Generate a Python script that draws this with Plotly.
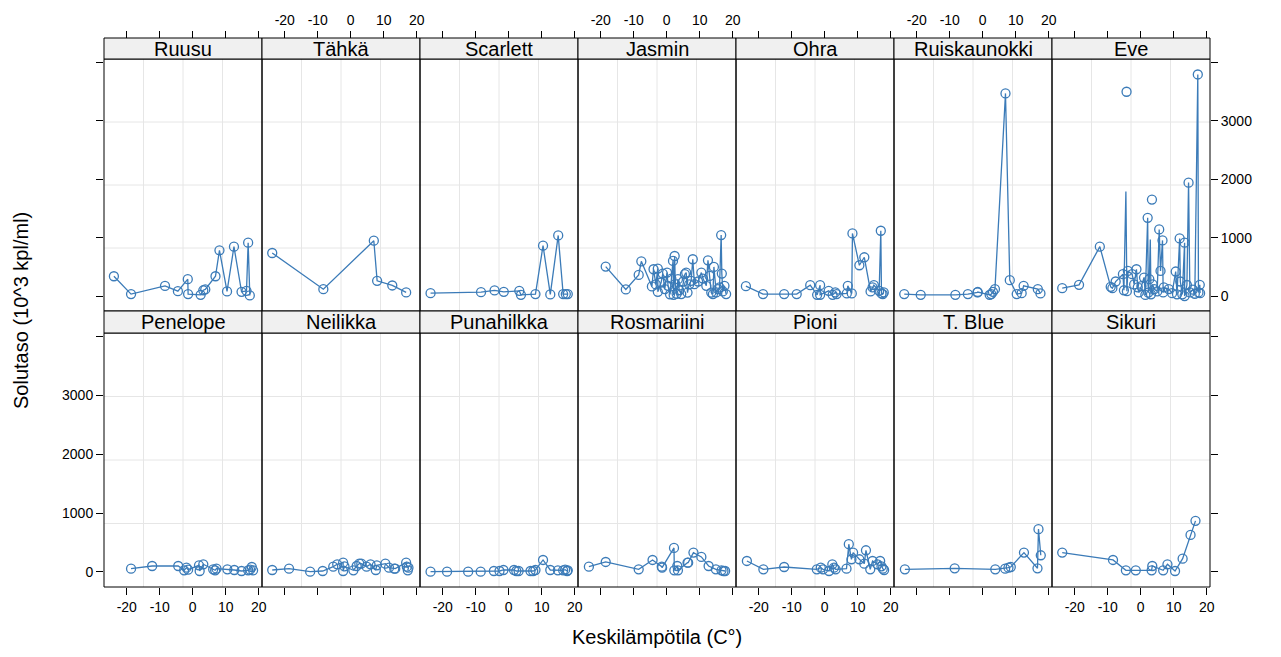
import plotly.graph_objects as go

# ---------------- data ----------------
panel_names = ["Ruusu", "Tähkä", "Scarlett", "Jasmin", "Ohra", "Ruiskaunokki", "Eve",
               "Penelope", "Neilikka", "Punahilkka", "Rosmariini", "Pioni", "T. Blue", "Sikuri"]

ruusu_x = [-23.9, -18.7, -8.4, -4.5, -1.5, -1.4, 2.4, 3.2, 3.8, 6.9, 8.1, 10.4, 12.5, 14.8, 16.3, 16.8, 17.3]
ruusu_y = [340, 34, 175, 85, 290, 34, 22, 100, 114, 340, 784, 80, 847, 73, 90, 915, 12]

tahka_x = [-23.8, -8.3, 7.0, 8.0, 12.6, 16.8]
tahka_y = [738, 119, 949, 261, 182, 63]

scarlett_x = [-23.7, -8.4, -4.3, -1.5, 3.2, 3.7, 8.1, 10.4, 12.6, 15.0, 16.5, 17.3, 17.9]
scarlett_y = [51, 68, 97, 73, 90, 22, 34, 863, 29, 1039, 34, 34, 34]

jasmin_x = [-18.5, -12.4, -8.5, -7.7, -4.5, -4.0, -3.3, -2.7, -2.7, -1.7, -1.2, -0.6, 0.1, 0.4, 1.0, 1.4,
            1.9, 2.1, 2.4, 2.6, 3.0, 3.4, 3.8, 4.4, 5.0, 5.5, 5.9, 6.3, 6.8, 7.4, 7.9, 8.4, 9.5, 10.5,
            11.0, 12.0, 12.5, 13.0, 13.5, 14.0, 14.3, 15.0, 15.5, 16.0, 16.5, 16.7, 17.0, 17.5, 18.0]
jasmin_y = [506, 114, 363, 596, 165, 460, 200, 472, 73, 233, 386, 120, 403, 176, 30, 300,
            602, 20, 687, 204, 40, 290, 100, 34, 250, 375, 403, 60, 200, 261, 631, 204, 250, 403,
            300, 176, 613, 346, 60, 34, 500, 63, 120, 148, 1045, 386, 80, 176, 34]

ohra_x = [-23.9, -18.7, -12.3, -8.5, -4.4, -2.3, -1.4, -1.4, 1.2, 2.4, 3.2, 3.6, 6.7, 7.0, 8.2, 8.4,
          10.5, 12.0, 13.9, 14.5, 14.9, 16.5, 17.0, 17.2, 17.6, 17.9]
ohra_y = [170, 34, 34, 34, 187, 22, 187, 22, 90, 22, 63, 34, 46, 176, 46, 1073,
          528, 665, 80, 148, 187, 90, 1119, 46, 34, 63]

ruis_x = [-23.8, -18.8, -8.3, -4.5, -1.6, -1.5, 2.1, 2.6, 3.1, 3.7, 6.9, 8.2, 10.3, 11.8, 12.4, 16.7, 17.5]
ruis_y = [34, 22, 22, 34, 63, 70, 22, 34, 73, 119, 3471, 273, 34, 51, 176, 119, 46]

eve_x = [-23.8, -18.7, -12.4, -9.1, -8.6, -7.6, -5.4, -5.1, -4.5, -4.2, -3.9, -2.6, -2.0, -1.3, -0.9,
         -0.6, 0.2, 1.0, 1.4, 2.1, 2.3, 2.6, 2.9, 3.1, 3.6, 4.1, 5.0, 5.6, 6.0, 6.6, 6.8, 7.0, 8.5,
         9.5, 10.6, 11.0, 11.8, 12.0, 12.6, 13.3, 13.3, 14.0, 14.5, 14.9, 15.8, 16.4, 17.3, 17.5,
         17.9, 18.0, None, -4.3, None, 3.4]
eve_y = [136, 193, 847, 159, 136, 250, 375, 100, 1790, 85, 431, 375, 200, 460, 150,
         63, 170, 318, 20, 1341, 60, 290, 970, 30, 200, 120, 80, 1142, 431, 954, 63, 150, 120,
         50, 421, 30, 988, 250, 30, 915, 0, 190, 1943, 63, 110, 40, 3795, 63,
         193, 51, None, 3499, None, 1653]
eve_line_only = [8, 22]  # vertices reached by the line without a circle

penelope_x = [-18.7, -12.3, -4.4, -2.6, -1.9, -1.4, 1.9, 2.1, 3.2, 6.2, 6.8, 7.2, 10.5, 12.6, 14.8,
              16.8, 17.9, 18.3, 17.4]
penelope_y = [57, 102, 102, 29, 73, 40, 114, 17, 131, 46, 29, 57, 46, 34, 17, 29, 85, 29, 40]

neilikka_x = [-23.8, -18.7, -12.3, -8.5, -5.3, -4.1, -2.3, -2.3, -1.9, 0.8, 1.8, 2.6, 3.2, 4.8, 6.0,
              7.6, 7.9, 10.5, 11.6, 13.2, 13.5, 16.8, 17.0, 17.5, 17.3]
neilikka_y = [34, 57, 5, 17, 91, 131, 159, 17, 97, 29, 102, 142, 142, 91, 131,
              34, 114, 142, 73, 57, 57, 159, 91, 73, 29]

puna_x = [-23.7, -18.7, -12.3, -8.5, -4.5, -2.8, -1.6, 1.6, 2.3, 3.0, 6.6, 7.4, 8.1, 10.4, 12.6,
          14.9, 16.5, 17.1, 17.7, 17.9]
puna_y = [5, 5, 5, 5, 17, 17, 34, 34, 17, 17, 17, 17, 34, 204, 34, 29, 29, 40, 17, 29]

rosm_x = [-23.6, -18.5, -8.5, -4.3, -1.5, -1.4, 2.2, 2.3, 3.2, 3.4, 6.3, 6.5, 8.1, 10.5, 12.7,
          14.9, 16.6, 17.2, 17.7]
rosm_y = [91, 170, 46, 204, 91, 73, 409, 29, 102, 29, 159, 159, 329, 256, 102, 46, 29, 17, 17]

pioni_x = [-23.6, -18.6, -12.3, -2.4, -1.2, -0.5, 1.3, 2.3, 2.8, 3.3, 6.6, 7.3, 8.1, 8.6, 10.5,
           12.0, 12.5, 13.8, 14.5, 16.0, 16.8, 17.2, 17.6, 18.0]
pioni_y = [187, 46, 85, 46, 73, 46, 17, 131, 73, 46, 57, 472, 216, 329, 216,
           142, 369, 46, 187, 131, 187, 97, 57, 34]

tblue_x = [-23.6, -8.5, 3.8, 6.8, 7.8, 8.5, 12.5, 16.6, 16.9, 17.6]
tblue_y = [46, 63, 46, 57, 73, 85, 329, 63, 728, 284]

sikuri_x = [-23.8, -8.4, -4.5, -1.5, 3.3, 3.5, 6.8, 8.1, 10.4, 12.7, 15.1, 16.6]
sikuri_y = [329, 204, 29, 29, 29, 102, 29, 131, 17, 227, 630, 869]

panel_x = [ruusu_x, tahka_x, scarlett_x, jasmin_x, ohra_x, ruis_x, eve_x,
           penelope_x, neilikka_x, puna_x, rosm_x, pioni_x, tblue_x, sikuri_x]
panel_y = [ruusu_y, tahka_y, scarlett_y, jasmin_y, ohra_y, ruis_y, eve_y,
           penelope_y, neilikka_y, puna_y, rosm_y, pioni_y, tblue_y, sikuri_y]

x_tickvals = [-20, -10, 0, 10, 20]
x_ticktext = ["-20", "-10", "0", "10", "20"]
y_tickvals = [0, 1000, 2000, 3000, 4000]
y_ticktext = ["0", "1000", "2000", "3000", ""]

x_title = "Keskilämpötila (C°)"
y_title = "Solutaso (10^3 kpl/ml)"

# ---------------- layout ----------------
OFF = 8                      # page body margin
W, H = 1265, 641
L_PX, R_PX, T_PX, B_PX = 104, 1210, 38, 587   # plot area in screen pixels
ML = L_PX - OFF
MR = OFF + W - R_PX
MT = T_PX - OFF
MB = OFF + H - B_PX
PW = R_PX - L_PX
PH = B_PX - T_PX

def py(px):  # screen pixel y -> paper y
    return (B_PX - px) / PH

def px_(sx):  # screen pixel x -> paper x
    return (sx - L_PX) / PW

row_dom = [[py(311), py(59)], [0.0, py(333)]]
strip_dom = [[py(59), 1.0], [py(333), py(311)]]

BLUE = "#3b7bb8"
FONT = "Liberation Sans, Arial, Helvetica, sans-serif"
XR = [-26.9, 21.0]
YR = [-255, 4060]

fig = go.Figure()
layout = dict(width=W, height=H, template="none",
              margin=dict(l=ML, r=MR, t=MT, b=MB),
              paper_bgcolor="white", plot_bgcolor="white",
              showlegend=False, font=dict(family=FONT, size=14, color="black"))
shapes = []
annotations = []

for i in range(14):
    r, c = divmod(i, 7)
    n = i + 1
    xa = "xaxis" if n == 1 else f"xaxis{n}"
    ya = "yaxis" if n == 1 else f"yaxis{n}"
    xs = "x" if n == 1 else f"x{n}"
    ys = "y" if n == 1 else f"y{n}"

    xdict = dict(domain=[c / 7, (c + 1) / 7], range=XR, showgrid=False, zeroline=False,
                 showline=False, tickvals=x_tickvals, ticktext=x_ticktext,
                 ticks="outside", ticklen=7, tickwidth=1, tickcolor="black",
                 tickfont=dict(size=14, color="black"))
    if r == 0:
        xdict.update(anchor="free", position=1.0, side="top",
                     showticklabels=(c in (1, 3, 5)))
    else:
        xdict.update(anchor=ys, side="bottom", showticklabels=(c in (0, 2, 4, 6)))
    layout[xa] = xdict

    ydict = dict(domain=row_dom[r], range=YR, anchor=xs, showgrid=False, zeroline=False,
                 showline=False, tickvals=y_tickvals, ticktext=y_ticktext,
                 tickfont=dict(size=14, color="black"))
    if c == 0:
        ydict.update(side="left", ticks="outside", ticklen=7, tickcolor="black",
                     showticklabels=(r == 1))
    elif c == 6:
        ydict.update(side="right", ticks="outside", ticklen=7, tickcolor="black",
                     showticklabels=(r == 0))
    else:
        ydict.update(ticks="", showticklabels=False)
    layout[ya] = ydict

    # grid lines (lattice panel.grid h=3, v=3)
    for f in (0.25, 0.5, 0.75):
        shapes.append(dict(type="line", xref=f"{xs} domain", yref=f"{ys} domain",
                           x0=f, x1=f, y0=0, y1=1, line=dict(color="#e6e6e6", width=1),
                           layer="below"))
        shapes.append(dict(type="line", xref=f"{xs} domain", yref=f"{ys} domain",
                           x0=0, x1=1, y0=f, y1=f, line=dict(color="#e6e6e6", width=1),
                           layer="below"))
    # panel border
    shapes.append(dict(type="rect", xref=f"{xs} domain", yref=f"{ys} domain",
                       x0=0, x1=1, y0=0, y1=1, line=dict(color="black", width=1),
                       fillcolor="rgba(0,0,0,0)", layer="above"))
    # strip
    shapes.append(dict(type="rect", xref="paper", yref="paper",
                       x0=c / 7, x1=(c + 1) / 7, y0=strip_dom[r][0], y1=strip_dom[r][1],
                       line=dict(color="black", width=1), fillcolor="#f0f0f0", layer="above"))
    annotations.append(dict(text=panel_names[i], xref="paper", yref="paper",
                            x=(c + 0.5) / 7, y=(strip_dom[r][0] + strip_dom[r][1]) / 2,
                            showarrow=False, font=dict(size=20, color="black"),
                            xanchor="center", yanchor="middle"))

    xv, yv = panel_x[i], panel_y[i]
    opac = [1.0] * len(xv)
    if panel_names[i] == "Eve":
        for k in eve_line_only:
            opac[k] = 0.0
    fig.add_trace(go.Scatter(x=xv, y=yv, xaxis=xs, yaxis=ys, mode="lines+markers",
                             connectgaps=False, cliponaxis=True,
                             line=dict(color=BLUE, width=1.3),
                             marker=dict(symbol="circle-open", size=9, color=BLUE,
                                         opacity=opac, line=dict(width=1.3, color=BLUE)),
                             hoverinfo="skip"))

annotations.append(dict(text=x_title, xref="paper", yref="paper", x=px_(657),
                        y=py(637), showarrow=False, font=dict(size=20, color="black"),
                        xanchor="center", yanchor="middle"))
annotations.append(dict(text=y_title, xref="paper", yref="paper", x=px_(21),
                        y=py(311), showarrow=False, textangle=-90,
                        font=dict(size=20, color="black"), xanchor="center", yanchor="middle"))

layout["shapes"] = shapes
layout["annotations"] = annotations
fig.update_layout(**layout)
fig.write_html("out.html")
